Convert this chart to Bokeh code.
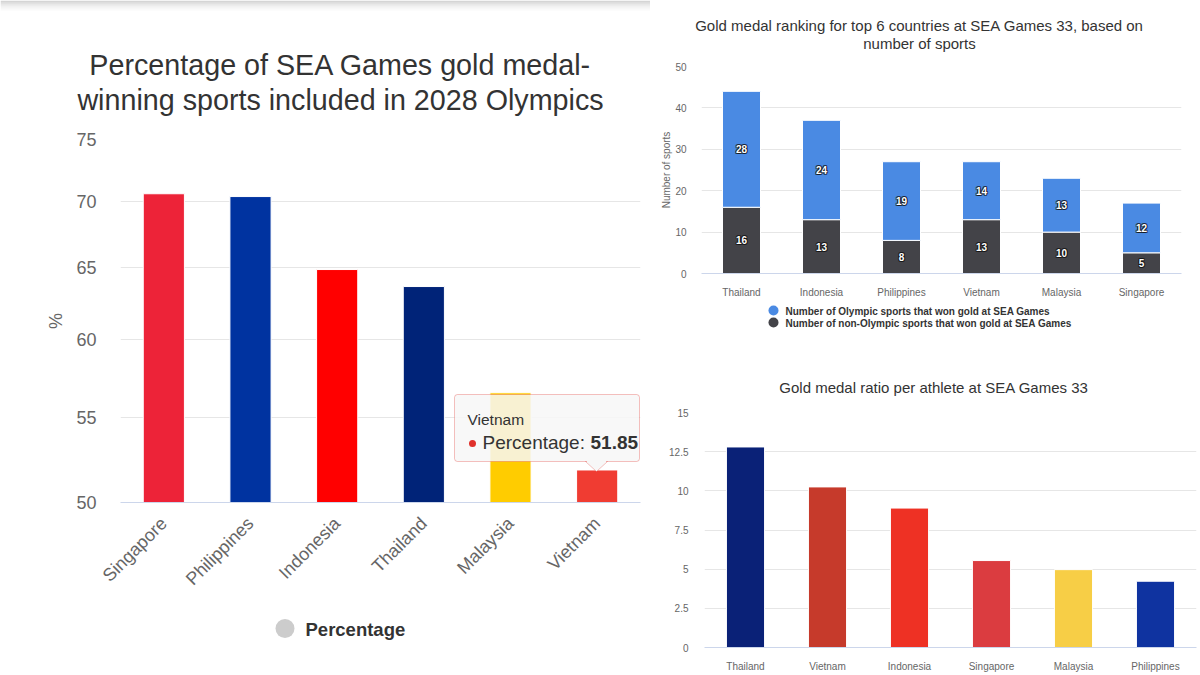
import math
from bokeh.plotting import figure
from bokeh.models import (FixedTicker, PrintfTickFormatter, Label, BoxAnnotation,
                          PolyAnnotation, ColumnDataSource)
from bokeh.layouts import row, column
from bokeh.embed import file_html
from bokeh.resources import INLINE
from bokeh.core.properties import value

FONT = "Liberation Sans"
TITLE_C = "#333333"
AXIS_C = "#666666"
GRID_C = "#e6e6e6"
LINE_C = "#ccd6eb"

# ---------------- data ----------------
pct_countries = ["Singapore", "Philippines", "Indonesia", "Thailand", "Malaysia", "Vietnam"]
pct_values = [70.59, 70.37, 64.86, 63.64, 56.52, 51.85]
pct_colors = ["#ed2338", "#0033a0", "#ff0000", "#002378", "#ffcc00", "#f03c32"]
pct_ticks = [50, 55, 60, 65, 70, 75]

rank_countries = ["Thailand", "Indonesia", "Philippines", "Vietnam", "Malaysia", "Singapore"]
olympic = [28, 24, 19, 14, 13, 12]
non_olympic = [16, 13, 8, 13, 10, 5]
rank_ticks = [0, 10, 20, 30, 40, 50]

ratio_countries = ["Thailand", "Vietnam", "Indonesia", "Singapore", "Malaysia", "Philippines"]
ratio_values = [12.8, 10.25, 8.9, 5.55, 4.97, 4.23]
ratio_colors = ["#0a2177", "#c63a2b", "#ee3124", "#db3c40", "#f7ce46", "#0f33a0"]
ratio_ticks = [0, 2.5, 5, 7.5, 10, 12.5, 15]


def label(p, x, y, text, size, color=TITLE_C, bold=False, align="left", units="data"):
    p.add_layout(Label(x=x, y=y, x_units=units, y_units=units, text=text,
                       text_font=FONT, text_font_size=f"{size}px", text_color=color,
                       text_font_style="bold" if bold else "normal",
                       text_align=align, text_baseline="middle"))


def blank(w, h):
    b = figure(width=w, height=h, x_range=(0, w), y_range=(h, 0),
               output_backend="svg", toolbar_location=None, min_border=0,
               x_axis_location=None, y_axis_location=None, frame_align=False)
    b.outline_line_color = None
    b.grid.visible = False
    b.background_fill_color = "white"
    b.border_fill_color = "white"
    return b


def style(p, size, ystand, xstand, ticks, ylabel=None, ylabel_stand=5):
    p.outline_line_color = None
    p.background_fill_color = "white"
    p.border_fill_color = "white"
    p.xgrid.grid_line_color = None
    p.ygrid.grid_line_color = GRID_C
    t = FixedTicker(ticks=ticks)
    p.yaxis.ticker = t
    p.ygrid.ticker = t
    for ax in (p.xaxis[0], p.yaxis[0]):
        ax.major_tick_line_color = None
        ax.minor_tick_line_color = None
        ax.major_label_text_font = FONT
        ax.major_label_text_font_size = f"{size}px"
        ax.major_label_text_color = AXIS_C
    p.yaxis.axis_line_color = None
    p.xaxis.axis_line_color = LINE_C
    p.yaxis.major_label_standoff = ystand
    p.xaxis.major_label_standoff = xstand
    if ylabel:
        p.yaxis.axis_label = ylabel
        p.yaxis.axis_label_text_font = FONT
        p.yaxis.axis_label_text_font_size = f"{size}px"
        p.yaxis.axis_label_text_font_style = "normal"
        p.yaxis.axis_label_text_color = AXIS_C
        p.yaxis.axis_label_standoff = ylabel_stand


# ================= left panel (width 650) =================
W1 = 650
t1 = blank(W1, 124)
for i, a in enumerate([0.35, 0.25, 0.16, 0.09, 0.04]):
    t1.add_layout(BoxAnnotation(left=0, right=W1, top=i * 2, bottom=i * 2 + 2,
                                fill_color="#888888", fill_alpha=a, line_color=None))
label(t1, 340, 64, "Percentage of SEA Games gold medal-", 28.7, align="center")
label(t1, 340, 99, "winning sports included in 2028 Olympics", 28.7, align="center")

# chart canvas spans y 124..600 of the page; frame 139..502
L1, TOP1, FT1, FB1, BOT1 = 120, 124, 139, 502, 600
p1 = figure(width=W1, height=BOT1 - TOP1, x_range=pct_countries, y_range=(50, 75),
            y_axis_type="log", output_backend="svg", toolbar_location=None,
            min_border_left=L1, min_border_right=10, min_border_top=FT1 - TOP1,
            min_border_bottom=BOT1 - FB1, frame_align=False)
style(p1, 18, 18, 12, pct_ticks, ylabel="%", ylabel_stand=7)
p1.yaxis.formatter = PrintfTickFormatter(format="%d")
p1.xaxis.major_label_orientation = math.pi / 4
p1.vbar(x=pct_countries, top=pct_values, bottom=50, width=0.475,
        fill_color=pct_colors, line_color="white", line_width=1)


def s1(cx, cy):
    return cx - L1, FB1 - cy


def sbox(p, l, t, r, b, fill, alpha=1.0, line=None, radius=0):
    x1, y1 = s1(l, t)
    x2, y2 = s1(r, b)
    p.add_layout(BoxAnnotation(left=x1, right=x2, top=y1, bottom=y2,
                               left_units="screen", right_units="screen",
                               top_units="screen", bottom_units="screen",
                               fill_color=fill, fill_alpha=alpha,
                               line_color=line, line_width=1, border_radius=radius))


# tooltip (hover state of the last bar)
sbox(p1, 454, 394, 639, 461, "#f7f7f7", alpha=0.85, line="#e0312b", radius=3)
notch = [s1(585, 461), s1(607, 461), s1(596, 471)]
p1.add_layout(PolyAnnotation(xs=[q[0] for q in notch], ys=[q[1] for q in notch],
                             xs_units="screen", ys_units="screen",
                             fill_color="#f7f7f7", fill_alpha=1.0,
                             line_color="#e0312b", line_width=1))
sbox(p1, 586.5, 459.6, 605.5, 461.8, "#f7f7f7")
x, y = s1(467, 418.5)
label(p1, x, y, pct_countries[-1], 15.5, units="screen")
sbox(p1, 468.5, 439.5, 475.5, 446.5, "#e0312b", radius=4)
x, y = s1(482, 442)
label(p1, x, y, "Percentage: ", 19, units="screen")
x, y = s1(590, 442)
label(p1, x, y, f"{pct_values[-1]:.2f}", 19, bold=True, units="screen")

# legend
l1 = blank(W1, 75)
l1.scatter(x=[284.5], y=[28], size=19, fill_color="#cccccc", line_color=None)
label(l1, 305, 29, "Percentage", 18.5, bold=True)

left = column(t1, p1, l1, spacing=0)

# ================= right panel (width 550) =================
W2 = 550
X2 = 650
t2 = blank(W2, 58)
label(t2, 919 - X2, 25, "Gold medal ranking for top 6 countries at SEA Games 33, based on", 15, align="center")
label(t2, 919 - X2, 43, "number of sports", 15, align="center")

L2, TOP2, FT2, FB2, BOT2 = 51, 58, 66, 273, 300
p2 = figure(width=W2, height=BOT2 - TOP2, x_range=rank_countries, y_range=(0, 50),
            output_backend="svg", toolbar_location=None,
            min_border_left=L2, min_border_right=19, min_border_top=FT2 - TOP2,
            min_border_bottom=BOT2 - FB2, frame_align=False)
style(p2, 10, 9, 7, rank_ticks, ylabel="Number of sports", ylabel_stand=0)
totals = [a + b for a, b in zip(olympic, non_olympic)]
p2.vbar(x=rank_countries, bottom=0, top=non_olympic, width=0.475,
        fill_color="#434348", line_color="white", line_width=1)
p2.vbar(x=rank_countries, bottom=non_olympic, top=totals, width=0.475,
        fill_color="#4a8ae3", line_color="white", line_width=1)
lab_src = ColumnDataSource(dict(
    x=rank_countries + rank_countries,
    y=[v / 2 for v in non_olympic] + [n + o / 2 for n, o in zip(non_olympic, olympic)],
    t=[str(v) for v in non_olympic] + [str(v) for v in olympic]))
for dx, dy in [(-1, 0), (1, 0), (0, -1), (0, 1), (-1, -1), (1, 1), (-1, 1), (1, -1)]:
    p2.text(x="x", y="y", text="t", source=lab_src, text_font=value(FONT),
            text_font_size="10px", text_font_style="bold", text_color="#111111",
            text_alpha=0.55, x_offset=dx, y_offset=dy,
            text_align="center", text_baseline="middle")
p2.text(x="x", y="y", text="t", source=lab_src, text_font=value(FONT),
        text_font_size="10px", text_font_style="bold", text_color="white",
        text_align="center", text_baseline="middle")

l2 = blank(W2, 55)
l2.scatter(x=[773 - X2, 773 - X2], y=[10, 22], size=10,
           fill_color=["#4a8ae3", "#434348"], line_color=None)
label(l2, 785 - X2, 10.5, "Number of Olympic sports that won gold at SEA Games", 10, bold=True)
label(l2, 785 - X2, 22.5, "Number of non-Olympic sports that won gold at SEA Games", 10, bold=True)

t3 = blank(W2, 45)
label(t3, 933.5 - X2, 32, "Gold medal ratio per athlete at SEA Games 33", 15, align="center")

L3, TOP3, FT3, FB3, BOT3 = 54, 400, 412, 647, 675
p3 = figure(width=W2, height=BOT3 - TOP3, x_range=ratio_countries, y_range=(0, 15),
            output_backend="svg", toolbar_location=None,
            min_border_left=L3, min_border_right=4, min_border_top=FT3 - TOP3,
            min_border_bottom=BOT3 - FB3, frame_align=False)
style(p3, 10, 10, 7, ratio_ticks)
p3.yaxis.major_label_overrides = {t: f"{t:g}" for t in ratio_ticks}
p3.vbar(x=ratio_countries, top=ratio_values, bottom=0, width=0.465,
        fill_color=ratio_colors, line_color="white", line_width=1)

right = column(t2, p2, l2, t3, p3, spacing=0)

layout = row(left, right, spacing=0)
open("out.html", "w").write(file_html(layout, INLINE))
